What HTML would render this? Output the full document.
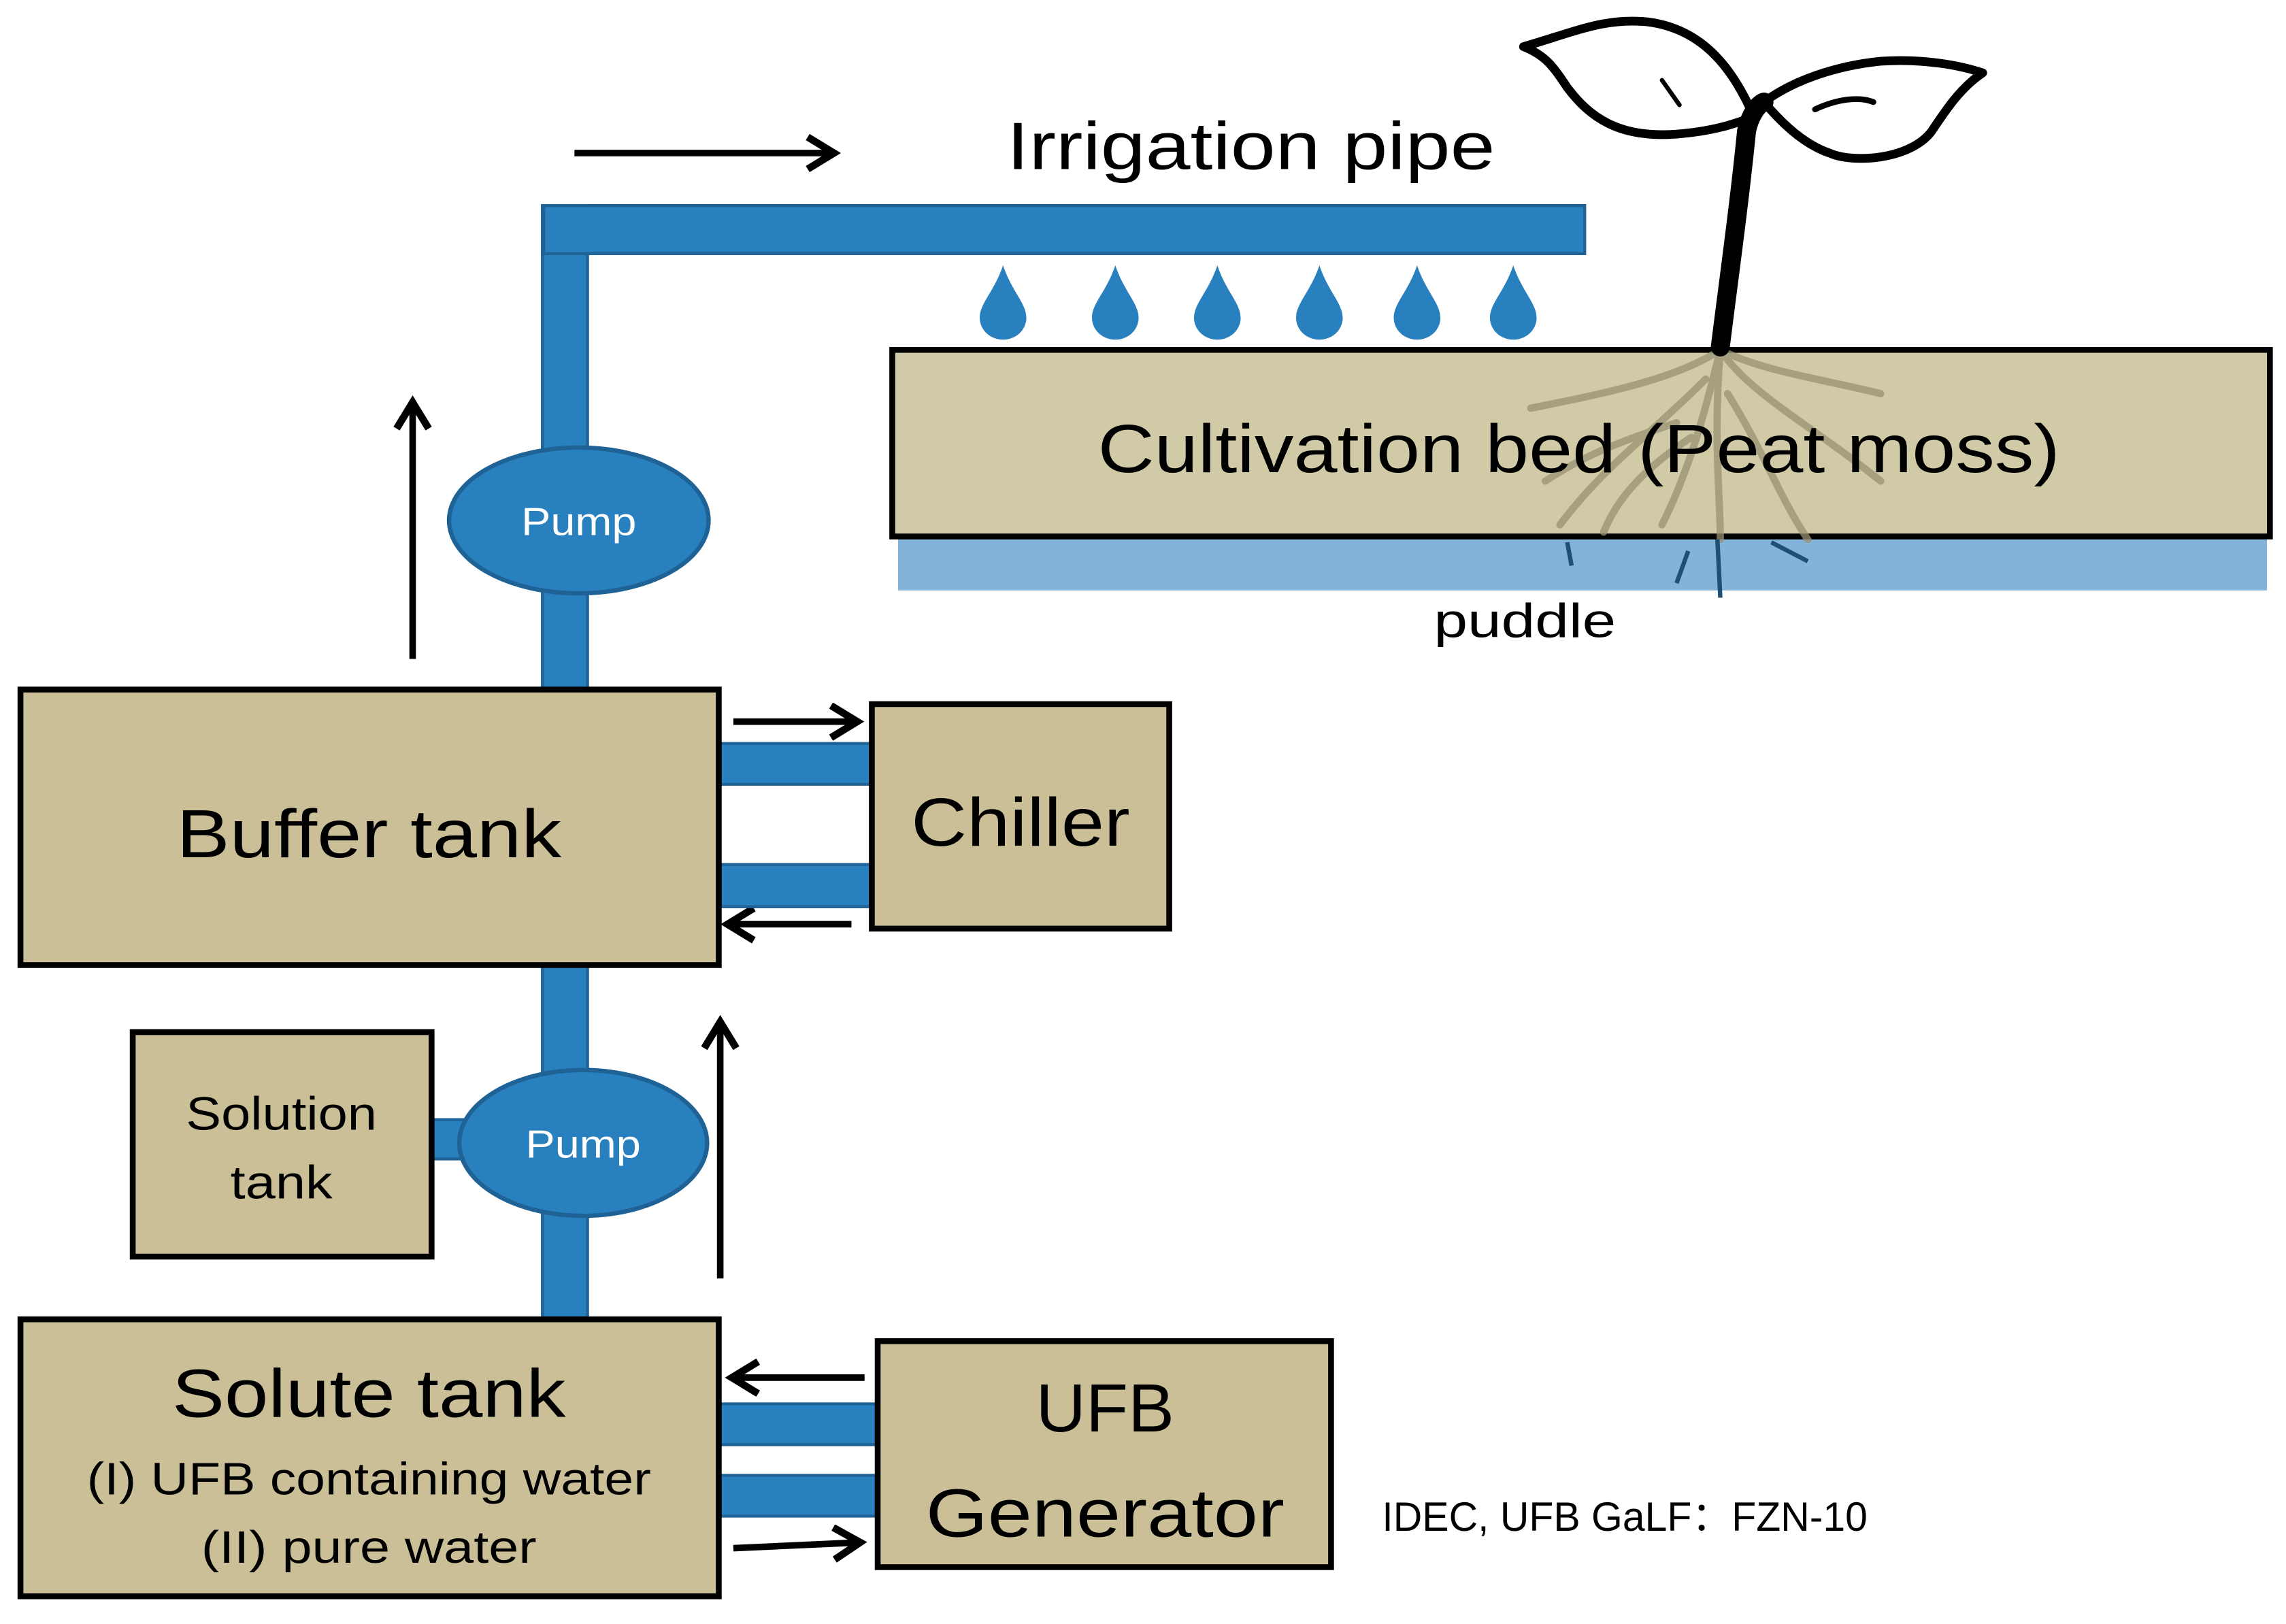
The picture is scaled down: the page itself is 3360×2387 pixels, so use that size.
<!DOCTYPE html>
<html><head><meta charset="utf-8"><style>
html,body{margin:0;padding:0;background:#fff;}
svg{display:block;}
text{font-family:"Liberation Sans",sans-serif;fill:#000;}
</style></head><body>
<svg width="3360" height="2387" viewBox="0 0 1568 1114" xmlns="http://www.w3.org/2000/svg">
<defs>
<marker id="ah2" markerWidth="30" markerHeight="30" refX="20" refY="13" orient="auto" markerUnits="userSpaceOnUse">
<path d="M2,2 L20,13 L2,24" fill="none" stroke="#000" stroke-width="5" stroke-linejoin="miter"/>
</marker>
</defs>
<rect width="1568" height="1114" fill="#fff"/>

<rect x="372" y="141" width="31" height="770" fill="#2980bf" stroke="#1f6296" stroke-width="2"/>
<rect x="373" y="141" width="714" height="33" fill="#2980bf" stroke="#1f6296" stroke-width="2"/>

<g stroke="#000" stroke-width="4.5" fill="none">
<line x1="394" y1="105" x2="572" y2="105" marker-end="url(#ah2)"/>
<line x1="283" y1="452" x2="283" y2="276" marker-end="url(#ah2)"/>
<line x1="503" y1="495" x2="588" y2="495" marker-end="url(#ah2)"/>
<line x1="584" y1="634" x2="499" y2="634" marker-end="url(#ah2)"/>
<line x1="494" y1="877" x2="494" y2="701" marker-end="url(#ah2)"/>
<line x1="593" y1="945" x2="502" y2="945" marker-end="url(#ah2)"/>
<line x1="503" y1="1062" x2="590" y2="1058" marker-end="url(#ah2)"/>
</g>

<text x="858" y="116" font-size="46" text-anchor="middle" textLength="335" lengthAdjust="spacingAndGlyphs">Irrigation pipe</text>

<g fill="#2980bf">
<path d="M688,182 C682,200 672,208 672,218 A16,15 0 0 0 704,218 C704,208 694,200 688,182Z"/>
<path d="M765,182 C759,200 749,208 749,218 A16,15 0 0 0 781,218 C781,208 771,200 765,182Z"/>
<path d="M835,182 C829,200 819,208 819,218 A16,15 0 0 0 851,218 C851,208 841,200 835,182Z"/>
<path d="M905,182 C899,200 889,208 889,218 A16,15 0 0 0 921,218 C921,208 911,200 905,182Z"/>
<path d="M972,182 C966,200 956,208 956,218 A16,15 0 0 0 988,218 C988,208 978,200 972,182Z"/>
<path d="M1038,182 C1032,200 1022,208 1022,218 A16,15 0 0 0 1054,218 C1054,208 1044,200 1038,182Z"/>
</g>

<rect x="616" y="368" width="939" height="37" fill="#84b3d9"/>
<rect x="612" y="240" width="945" height="128" fill="#d1caa7" stroke="#000" stroke-width="4"/>
<g stroke="#9a9274" stroke-width="5" fill="none" opacity="0.75" stroke-linecap="round">
<path d="M1180,240 C1170,280 1160,320 1140,360"/>
<path d="M1180,240 C1150,260 1100,270 1050,280"/>
<path d="M1180,240 C1200,270 1240,290 1290,330"/>
<path d="M1180,240 C1210,255 1250,260 1290,270"/>
<path d="M1180,240 C1175,300 1180,340 1180,370"/>
<path d="M1170,260 C1130,300 1100,320 1070,360"/>
<path d="M1185,270 C1210,310 1220,340 1240,370"/>
<path d="M1150,290 C1120,300 1090,310 1060,330"/>
<path d="M1160,300 C1130,320 1110,340 1100,365"/>
</g>
<g stroke="#1f4f75" stroke-width="3" fill="none">
<path d="M1178,370 L1180,410"/><path d="M1158,378 L1150,400"/><path d="M1215,372 L1240,385"/><path d="M1075,372 L1078,388"/>
</g>
<text x="1083" y="324" font-size="47" text-anchor="middle" textLength="660" lengthAdjust="spacingAndGlyphs">Cultivation bed (Peat moss)</text>
<text x="1046" y="437" font-size="33" text-anchor="middle" textLength="125" lengthAdjust="spacingAndGlyphs">puddle</text>

<g stroke="#000" fill="none" stroke-linecap="round" stroke-linejoin="round">
<path d="M1180,238 C1186,190 1193,140 1198,90 C1200,80 1205,72 1210,70" stroke-width="13"/>
<path d="M1203,80 C1190,50 1170,20 1130,15 C1100,12 1080,22 1045,32 C1060,38 1065,45 1075,60 C1090,80 1110,95 1150,92 C1175,90 1190,85 1203,80Z" stroke-width="6"/>
<path d="M1210,70 C1230,55 1260,45 1290,42 C1320,40 1345,45 1360,50 C1345,60 1335,75 1325,90 C1310,110 1270,112 1255,105 C1240,100 1225,88 1210,70Z" stroke-width="6"/>
<path d="M1140,55 L1152,72" stroke-width="3"/>
<path d="M1245,75 C1260,68 1275,66 1285,70" stroke-width="4"/>
</g>

<ellipse cx="397" cy="357" rx="89" ry="50" fill="#2980bf" stroke="#1f6296" stroke-width="3"/>
<text x="397" y="367" font-size="27" style="fill:#fff" text-anchor="middle" textLength="79" lengthAdjust="spacingAndGlyphs">Pump</text>

<rect x="493" y="510" width="105" height="28" fill="#2980bf" stroke="#1f6296" stroke-width="2"/>
<rect x="493" y="593" width="105" height="29" fill="#2980bf" stroke="#1f6296" stroke-width="2"/>
<rect x="14" y="473" width="479" height="189" fill="#cbbf98" stroke="#000" stroke-width="4"/>
<text x="253" y="588" font-size="47" text-anchor="middle" textLength="264" lengthAdjust="spacingAndGlyphs">Buffer tank</text>
<rect x="598" y="483" width="204" height="154" fill="#cbbf98" stroke="#000" stroke-width="4"/>
<text x="700" y="580" font-size="47" text-anchor="middle" textLength="150" lengthAdjust="spacingAndGlyphs">Chiller</text>

<rect x="294" y="768" width="30" height="27" fill="#2980bf" stroke="#1f6296" stroke-width="2"/>
<rect x="91" y="708" width="205" height="154" fill="#cbbf98" stroke="#000" stroke-width="4"/>
<text x="193" y="775" font-size="32" text-anchor="middle" textLength="131" lengthAdjust="spacingAndGlyphs">Solution</text>
<text x="193" y="822" font-size="32" text-anchor="middle" textLength="70" lengthAdjust="spacingAndGlyphs">tank</text>

<ellipse cx="400" cy="784" rx="85" ry="50" fill="#2980bf" stroke="#1f6296" stroke-width="3"/>
<text x="400" y="794" font-size="27" style="fill:#fff" text-anchor="middle" textLength="79" lengthAdjust="spacingAndGlyphs">Pump</text>

<rect x="493" y="963" width="109" height="28" fill="#2980bf" stroke="#1f6296" stroke-width="2"/>
<rect x="493" y="1012" width="109" height="28" fill="#2980bf" stroke="#1f6296" stroke-width="2"/>
<rect x="14" y="905" width="479" height="190" fill="#cbbf98" stroke="#000" stroke-width="4"/>
<text x="253" y="972" font-size="47" text-anchor="middle" textLength="270" lengthAdjust="spacingAndGlyphs">Solute tank</text>
<text x="253" y="1025" font-size="31" text-anchor="middle" textLength="387" lengthAdjust="spacingAndGlyphs">(I) UFB containing water</text>
<text x="253" y="1072" font-size="31" text-anchor="middle" textLength="230" lengthAdjust="spacingAndGlyphs">(II) pure water</text>
<rect x="602" y="920" width="311" height="155" fill="#cbbf98" stroke="#000" stroke-width="4"/>
<text x="758" y="982" font-size="47" text-anchor="middle" textLength="95" lengthAdjust="spacingAndGlyphs">UFB</text>
<text x="758" y="1054" font-size="47" text-anchor="middle" textLength="246" lengthAdjust="spacingAndGlyphs">Generator</text>

<text x="948" y="1050" font-size="28" textLength="333" lengthAdjust="spacingAndGlyphs">IDEC, UFB GaLF：FZN-10</text>
</svg>
</body></html>
